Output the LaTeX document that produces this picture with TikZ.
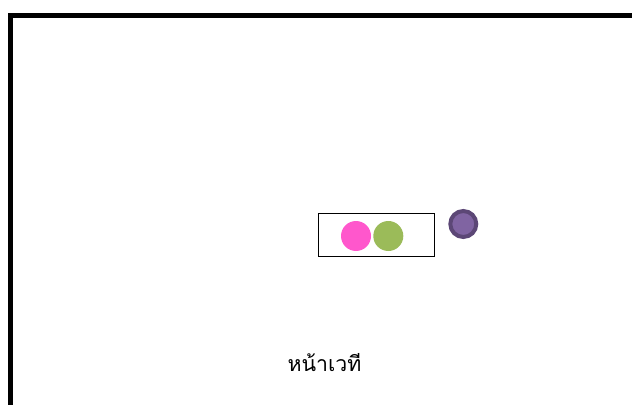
\documentclass[tikz,border=0pt]{standalone}
\usepackage{fontspec}
\newfontfamily\thaifont[Script=Thai]{Loma}
\definecolor{pinkc}{HTML}{FF57CC}
\definecolor{greenc}{HTML}{9BBB59}
\definecolor{purplef}{HTML}{8064A2}
\definecolor{purpled}{HTML}{5C4776}
\begin{document}
\begin{tikzpicture}[x=1pt,y=1pt,
  wall/.style={line width=5pt,black},
  dot/.style={circle,inner sep=0pt,minimum size=30pt}]
\useasboundingbox (0,0) rectangle (632,405);
\coordinate (tr) at (632,389.5);
\coordinate (tl) at (10.5,389.5);
\coordinate (bl) at (10.5,0);
\draw[wall,line join=miter] (tr) -- (tl) -- (bl);
\node[draw,line width=0.8pt,minimum width=116pt,minimum height=43pt,inner sep=0pt] (box) at (376.3,170.6) {};
\node[dot,fill=pinkc] (p) at (356,169) {};
\node[dot,fill=greenc] (g) at (388.3,169) {};
\node[dot,fill=purplef,draw=purpled,line width=4pt,minimum size=26pt] (v) at (463.3,181) {};
\node[font=\thaifont\fontsize{21.3}{24}\selectfont] (t) at (324.5,42) {หน้าเวที};
\end{tikzpicture}
\end{document}
